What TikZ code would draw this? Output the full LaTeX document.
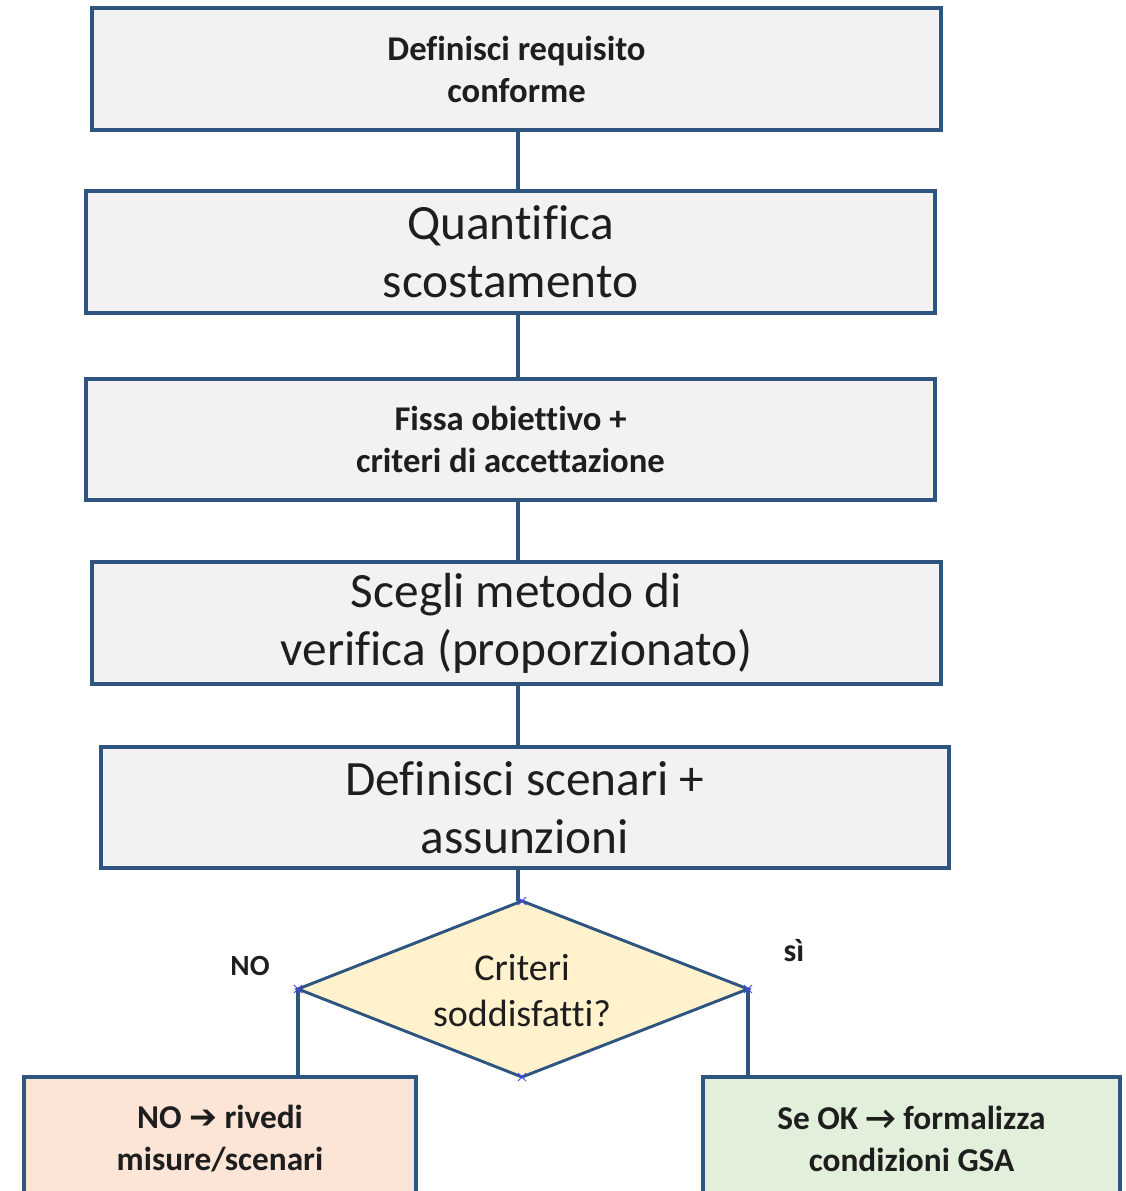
\documentclass[tikz,border=0pt]{standalone}
\usepackage{fontspec}
\setmainfont{Carlito}[RawFeature={-liga;-clig;-dlig}]
\newfontfamily\arrowfont{DejaVu Sans}
\definecolor{edge}{RGB}{46,84,128}
\definecolor{boxfill}{RGB}{242,242,242}
\definecolor{decfill}{RGB}{255,242,204}
\definecolor{nofill}{RGB}{252,228,214}
\definecolor{okfill}{RGB}{226,239,218}
\definecolor{txt}{RGB}{30,30,30}
\definecolor{marker}{RGB}{70,70,255}
\tikzset{
  stepbox/.style={draw=edge, line width=2.3pt, rectangle, inner sep=0pt, align=center, text=txt},
  conn/.style={draw=edge, line width=3pt},
  lbl/.style={inner sep=0pt, text=txt, font=\bfseries\fontsize{22}{26}\selectfont},
  xmark/.style={draw=marker, line width=0.6pt},
}
\begin{document}
\begin{tikzpicture}[x=0.75pt, y=-0.75pt]
\useasboundingbox (0,0) rectangle (1125,1191);
\coordinate (spine) at (518,0);
% boxes
\node[stepbox, fill=boxfill, minimum width=849*0.75pt, minimum height=122*0.75pt,
  font=\bfseries\fontsize{26}{31.5}\selectfont] (b1) at (516.5,69) {Definisci requisito\\conforme};
\node[stepbox, fill=boxfill, minimum width=849*0.75pt, minimum height=122*0.75pt,
  font=\fontsize{37}{43.5}\selectfont] (b2) at (510.5,252) {Quantifica\\scostamento};
\node[stepbox, fill=boxfill, minimum width=849*0.75pt, minimum height=121*0.75pt,
  font=\bfseries\fontsize{26}{31.5}\selectfont] (b3) at (510.5,439.5) {Fissa obiettivo +\\criteri di accettazione};
\node[stepbox, fill=boxfill, minimum width=849*0.75pt, minimum height=122*0.75pt,
  font=\fontsize{37}{43.5}\selectfont] (b4) at (516.5,623) {Scegli metodo di\\verifica (proporzionato)};
\node[stepbox, fill=boxfill, minimum width=848*0.75pt, minimum height=121*0.75pt,
  font=\fontsize{37}{43.5}\selectfont] (b5) at (525,807.5) {Definisci scenari +\\assunzioni};
% decision
\coordinate (dtop) at (522,901);
\coordinate (dleft) at (298,989);
\coordinate (dright) at (748,989);
\coordinate (dbot) at (522,1077);
\draw[draw=edge, line width=2.2pt, fill=decfill, line join=miter] (dtop) -- (dright) -- (dbot) -- (dleft) -- cycle;
\node[inner sep=0pt, align=center, text=txt, font=\fontsize{28.5}{34.5}\selectfont] (dec) at (522,991) {Criteri\\soddisfatti?};
% outcome boxes
\node[stepbox, fill=nofill, minimum width=392*0.75pt, minimum height=124*0.75pt,
  font=\bfseries\fontsize{25}{31.5}\selectfont] (no) at (220,1139) {NO {\arrowfont\bfseries ➔} rivedi\\misure/scenari};
\node[stepbox, fill=okfill, minimum width=417*0.75pt, minimum height=124*0.75pt,
  font=\bfseries\fontsize{25}{31.5}\selectfont] (ok) at (911.5,1139) {Se OK → formalizza\\condizioni GSA};
% connectors
\draw[conn] (b1.south -| spine) -- (b2.north -| spine);
\draw[conn] (b2.south -| spine) -- (b3.north -| spine);
\draw[conn] (b3.south -| spine) -- (b4.north -| spine);
\draw[conn] (b4.south -| spine) -- (b5.north -| spine);
\draw[conn] (b5.south -| spine) -- (dtop -| spine);
\draw[conn] (dleft) -- (no.north -| dleft);
\draw[conn] (dright) -- (ok.north -| dright);
% labels
\node[lbl] (lno) at (250,966) {NO};
\node[lbl, font=\bfseries\fontsize{24}{28}\selectfont] (lsi) at (794,951) {sì};
% connection markers
\foreach \p in {dtop,dleft,dright,dbot}{
  \draw[xmark] ([shift={(-4,-4)}]\p) -- ([shift={(4,4)}]\p);
  \draw[xmark] ([shift={(-4,4)}]\p) -- ([shift={(4,-4)}]\p);
}
\end{tikzpicture}
\end{document}
